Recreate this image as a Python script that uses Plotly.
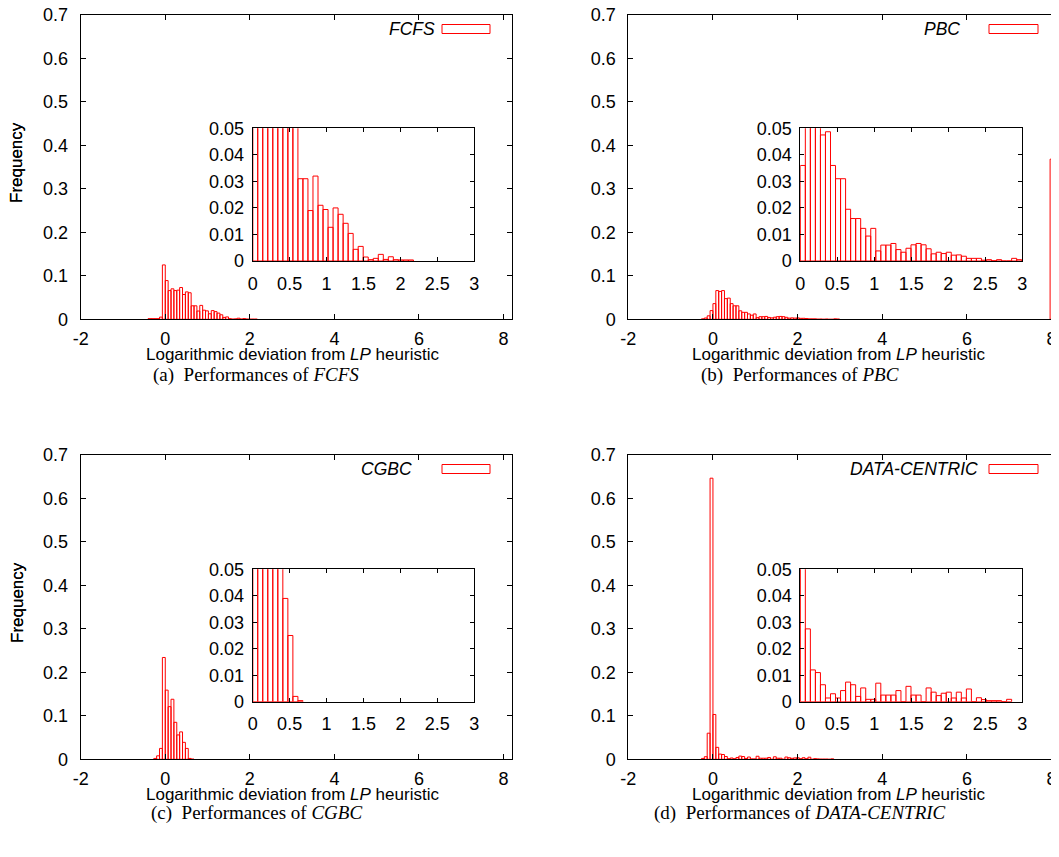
import numpy as np
import plotly.graph_objects as go

# ---------------- data ----------------
BIN_WIDTH = 0.068          # histogram bin width (log deviation units)

fcfs_first_bin = -6
fcfs_freq = [0.0015, 0.0015, 0.0015, 0.0015, 0.005, 0.125,
             0.089, 0.066, 0.070, 0.066, 0.067, 0.073, 0.057, 0.063, 0.061,
             0.031, 0.031, 0.019, 0.032, 0.021, 0.0194, 0.0127, 0.020, 0.0176, 0.0142,
             0.0104, 0.0044, 0.0055, 0.0015, 0.0005, 0.001, 0.0025, 0.0006, 0.0016,
             0.0005, 0.0004, 0.0004, 0.0004]

pbc_first_bin = -4
pbc_freq = [0.001, 0.003, 0.008, 0.02,
            0.036, 0.066, 0.064, 0.066, 0.0475, 0.0487, 0.036, 0.031, 0.031, 0.0195,
            0.016, 0.016, 0.0123, 0.0094, 0.0123, 0.0038, 0.006, 0.006, 0.0066, 0.0043,
            0.0033, 0.0048, 0.0061, 0.0066, 0.0061, 0.0046, 0.0027, 0.0033, 0.0028, 0.0033,
            0.0022, 0.0023, 0.0018, 0.001, 0.001, 0.001, 0.0003, 0.0005, 0.0001, 0.0005,
            0.0, 0.0, 0.001, 0.0005]
pbc_overflow_x = [8.0]
pbc_overflow_freq = [0.368]

cgbc_first_bin = -4
cgbc_freq = [0.002, 0.008, 0.025, 0.234,
             0.159, 0.121, 0.138, 0.085, 0.056, 0.063, 0.039, 0.025, 0.002, 0.0004]

dc_first_bin = -4
dc_freq = [0.002, 0.006, 0.060, 0.646,
           0.103, 0.0275, 0.012, 0.011, 0.0064, 0.0014, 0.003, 0.0014, 0.0042, 0.0074,
           0.0064, 0.002, 0.0052, 0.0009, 0.0009, 0.007, 0.0025, 0.0025, 0.0025, 0.0042,
           0.0, 0.0058, 0.0025, 0.0025, 0.0, 0.0052, 0.0036, 0.0023, 0.0032, 0.0036,
           0.0014, 0.0036, 0.0014, 0.0048, 0.0, 0.0015, 0.0008, 0.0004, 0.0004, 0.0004,
           0.0, 0.0009]

main_x_ticks = [-2, 0, 2, 4, 6, 8]
main_x_labels = ["-2", "0", "2", "4", "6", "8"]
main_y_ticks = [0, 0.1, 0.2, 0.3, 0.4, 0.5, 0.6, 0.7]
main_y_labels = ["0", "0.1", "0.2", "0.3", "0.4", "0.5", "0.6", "0.7"]
inset_x_ticks = [0, 0.5, 1, 1.5, 2, 2.5, 3]
inset_x_labels = ["0", "0.5", "1", "1.5", "2", "2.5", "3"]
inset_y_ticks = [0, 0.01, 0.02, 0.03, 0.04, 0.05]
inset_y_labels = ["0", "0.01", "0.02", "0.03", "0.04", "0.05"]

series_names = ["FCFS", "PBC", "CGBC", "DATA-CENTRIC"]
caption_letters = ["a", "b", "c", "d"]

# ---------------- layout helpers ----------------
W, H = 1059, 857
OFF = 8            # default page body margin of the browser
RED = "#ff0000"
SANS = "Liberation Sans, Arial, sans-serif"
SERIF = "Liberation Serif, serif"


def px_x(v):
    return (v - OFF) / W


def px_y(v):
    return 1 - (v - OFF) / H


panels = [
    dict(freq=fcfs_freq, first=fcfs_first_bin, left=True, top=True,
         text_right=437, box=(442, 490)),
    dict(freq=pbc_freq, first=pbc_first_bin, left=False, top=True,
         text_right=962, box=(989, 1038)),
    dict(freq=cgbc_freq, first=cgbc_first_bin, left=True, top=False,
         text_right=414, box=(442, 490)),
    dict(freq=dc_freq, first=dc_first_bin, left=False, top=False,
         text_right=980, box=(989, 1038)),
]

fig = go.Figure()
layout = dict(width=W, height=H, autosize=False,
              margin=dict(l=0, r=0, t=0, b=0, pad=0, autoexpand=False),
              paper_bgcolor="white", plot_bgcolor="white",
              showlegend=False, font=dict(family=SANS, size=18, color="black"))
annotations = []
shapes = []


def axis_common(tickvals, ticktext, rng, domain, anchor, standoff, ticklen=5):
    return dict(range=rng, domain=domain, anchor=anchor, tickmode="array",
                tickvals=tickvals, ticktext=ticktext, ticks="inside", ticklen=ticklen,
                tickwidth=1, tickcolor="black", showline=True, linecolor="black",
                linewidth=1, mirror="ticks", showgrid=False, zeroline=False,
                automargin=False, ticklabelstandoff=standoff, ticklabeloverflow="allow",
                tickfont=dict(family=SANS, size=18, color="black"), fixedrange=True)


for i, p in enumerate(panels):
    n_main = 2 * i + 1
    n_ins = 2 * i + 2
    xm, ym = f"x{n_main}", f"y{n_main}"
    xi, yi = f"x{n_ins}", f"y{n_ins}"
    freq = np.array(p["freq"], dtype=float)
    lefts = (p["first"] + np.arange(len(freq))) * BIN_WIDTH

    top0, bot0 = (14.7, 319.3) if p["top"] else (454.7, 759.3)
    ins_top, ins_bot = (128.3, 261.0) if p["top"] else (569.3, 701.7)
    if p["left"]:
        mx0, mx1 = 80.7, 512.0
        ix0, ix1 = 252.7, 474.3
    else:
        mx0, mx1 = 628.3, 1060.0
        ix0, ix1 = 800.3, 1022.3

    main_dom_x = [px_x(mx0), px_x(mx1)]
    main_dom_y = [px_y(bot0), px_y(top0)]
    ins_dom_x = [px_x(ix0), px_x(ix1)]
    ins_dom_y = [px_y(ins_bot), px_y(ins_top)]

    bar_style = dict(color="rgba(255,255,255,0)", line=dict(color=RED, width=1))
    fig.add_trace(go.Bar(x=lefts, y=freq, width=BIN_WIDTH, offset=0, marker=bar_style,
                         xaxis=xm, yaxis=ym, hoverinfo="skip"))
    if i == 1:
        fig.add_trace(go.Bar(x=pbc_overflow_x, y=pbc_overflow_freq, width=BIN_WIDTH,
                             offset=-BIN_WIDTH / 2, marker=bar_style,
                             xaxis=xm, yaxis=ym, hoverinfo="skip"))
    fig.add_trace(go.Bar(x=lefts, y=freq, width=BIN_WIDTH, offset=0, marker=bar_style,
                         xaxis=xi, yaxis=yi, hoverinfo="skip"))

    key_x = "xaxis" if n_main == 1 else f"xaxis{n_main}"
    key_y = "yaxis" if n_main == 1 else f"yaxis{n_main}"
    layout[key_x] = axis_common(main_x_ticks, main_x_labels, [-2, 8.2], main_dom_x, ym, 3)
    layout[key_y] = axis_common(main_y_ticks, main_y_labels, [0, 0.7], main_dom_y, xm, 8)
    layout[f"xaxis{n_ins}"] = axis_common(inset_x_ticks, inset_x_labels, [0, 3],
                                          ins_dom_x, yi, 6, ticklen=4)
    layout[f"yaxis{n_ins}"] = axis_common(inset_y_ticks, inset_y_labels, [0, 0.05],
                                          ins_dom_y, xi, 4, ticklen=4)

    # axis titles
    annotations.append(dict(text="Frequency", x=px_x(17), y=px_y((top0 + bot0) / 2 - 4),
                            xref="paper", yref="paper", showarrow=False, textangle=-90,
                            font=dict(family=SANS, size=17, color="black"),
                            xanchor="center", yanchor="middle"))
    annotations.append(dict(text="Logarithmic deviation from <i>LP</i> heuristic",
                            x=px_x(292 if p["left"] else 838), y=px_y(bot0 + 35),
                            xref="paper", yref="paper", showarrow=False,
                            font=dict(family=SANS, size=17, color="black"),
                            xanchor="center", yanchor="middle"))
    # key
    key_y_px = top0 + 14.3
    annotations.append(dict(text=f"<i>{series_names[i]}</i>", x=px_x(p["text_right"]),
                            y=px_y(key_y_px), xref="paper", yref="paper", showarrow=False,
                            font=dict(family=SANS, size=17.5, color="black"),
                            xanchor="right", yanchor="middle"))
    shapes.append(dict(type="rect", xref="paper", yref="paper",
                       x0=px_x(p["box"][0]), x1=px_x(p["box"][1]),
                       y0=px_y(key_y_px + 4.5), y1=px_y(key_y_px - 4.5),
                       line=dict(color=RED, width=1), fillcolor="white"))
    # caption
    annotations.append(dict(text=f"({caption_letters[i]})  Performances of <i>{series_names[i]}</i>",
                            x=px_x(256 if p["left"] else 800),
                            y=px_y(375 if p["top"] else 813),
                            xref="paper", yref="paper", showarrow=False,
                            font=dict(family=SERIF, size=19, color="black"),
                            xanchor="center", yanchor="middle"))

layout["annotations"] = annotations
layout["shapes"] = shapes
fig.update_layout(**layout)
fig.write_html("out.html")
